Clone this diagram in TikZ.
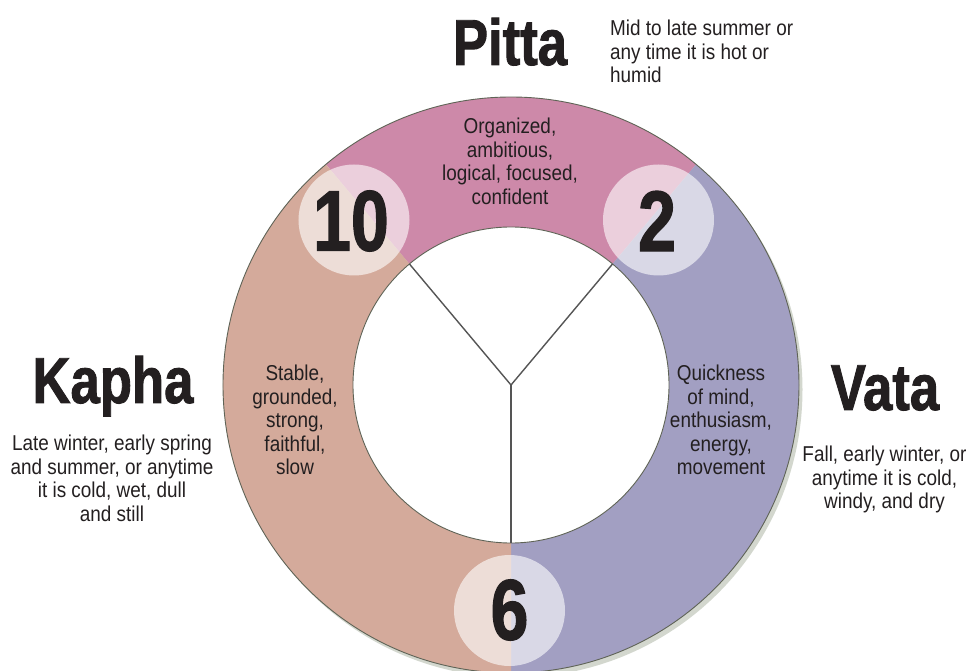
\documentclass[tikz,border=0pt]{standalone}
\usepackage{fontspec}
\setmainfont{Liberation Sans}
\newfontfamily\descfont[FakeStretch=0.88]{Liberation Sans}
\newfontfamily\titlefont[FakeStretch=0.81,FakeBold=1.4]{Liberation Sans Bold}
\newfontfamily\numfont[FakeStretch=0.79,FakeBold=1.4]{Liberation Sans Bold}
\definecolor{pittac}{HTML}{CD89A9}
\definecolor{vatac}{HTML}{A29FC2}
\definecolor{kaphac}{HTML}{D4AA9B}
\definecolor{shadowc}{HTML}{D3D7CE}
\definecolor{ink}{HTML}{231F20}
\definecolor{rimc}{HTML}{5F6356}
\definecolor{spokec}{HTML}{555555}
\begin{document}
\begin{tikzpicture}[x=1pt,y=1pt,
  numcirc/.style={circle, fill=white, fill opacity=0.6, minimum size=111pt, inner sep=0pt, draw=none},
  numtext/.style={font=\numfont\fontsize{86}{86}\selectfont, text=ink, inner sep=0pt},
  title/.style={font=\titlefont\fontsize{65}{65}\selectfont, text=ink, inner sep=0pt, anchor=base},
  desc/.style={font=\descfont\fontsize{21.5}{23.5}\selectfont, text=ink, inner sep=0pt},
  rim/.style={draw=rimc, line width=0.9pt},
  spoke/.style={draw=spokec, line width=1.4pt}]
\useasboundingbox (-511,-286) rectangle (457,385);
% shadow
\fill[shadowc] (3.5,-4.5) circle[radius=288pt];
% segments
\fill[pittac] (50:288) arc[start angle=50, end angle=130, radius=288pt] -- (130:158) arc[start angle=130, end angle=50, radius=158pt] -- cycle;
\fill[vatac] (-90:288) arc[start angle=-90, end angle=50, radius=288pt] -- (50:158) arc[start angle=50, end angle=-90, radius=158pt] -- cycle;
\fill[kaphac] (130:288) arc[start angle=130, end angle=270, radius=288pt] -- (270:158) arc[start angle=270, end angle=130, radius=158pt] -- cycle;
\draw[rim] (0,0) circle[radius=288pt];
\draw[rim, fill=white] (0,0) circle[radius=158pt];
% spokes
\coordinate (c) at (0,0);
\coordinate (pk) at (130:158);
\coordinate (pv) at (50:158);
\coordinate (kv) at (270:158);
\draw[spoke] (pk) -- (c) -- (pv);
\draw[spoke] (c) -- (kv);
% number circles
\node[numcirc] (c10) at (-157,165) {};
\node[numcirc] (c2) at (147.5,165) {};
\node[numcirc] (c6) at (-1.5,-225.5) {};
\node[numtext] (n10) at (-160,164) {10};
\node[numtext] (n2) at (146,164) {2};
\node[numtext] (n6) at (-1.5,-225) {6};
% titles
\node[title] (pitta) at (-1,320) {Pitta};
\node[title] (kapha) at (-398,-18) {Kapha};
\node[title] (vata) at (374,-25) {Vata};
% seasons
\node[desc, anchor=north west, align=left] (pittas) at (99,365) {Mid to late summer or\\any time it is hot or\\humid};
\node[desc, anchor=north, align=center] (kaphas) at (-399,-50) {Late winter, early spring\\and summer, or anytime\\it is cold, wet, dull\\and still};
\node[desc, anchor=north, align=center] (vatas) at (373.5,-61) {Fall, early winter, or\\anytime it is cold,\\windy, and dry};
% traits
\node[desc, anchor=north, align=center] (pittat) at (-1,267) {Organized,\\ambitious,\\logical, focused,\\confident};
\node[desc, anchor=north, align=center] (kaphat) at (-216,20) {Stable,\\grounded,\\strong,\\faithful,\\slow};
\node[desc, anchor=north, align=center] (vatat) at (210,20) {Quickness\\of mind,\\enthusiasm,\\energy,\\movement};
\end{tikzpicture}
\end{document}
